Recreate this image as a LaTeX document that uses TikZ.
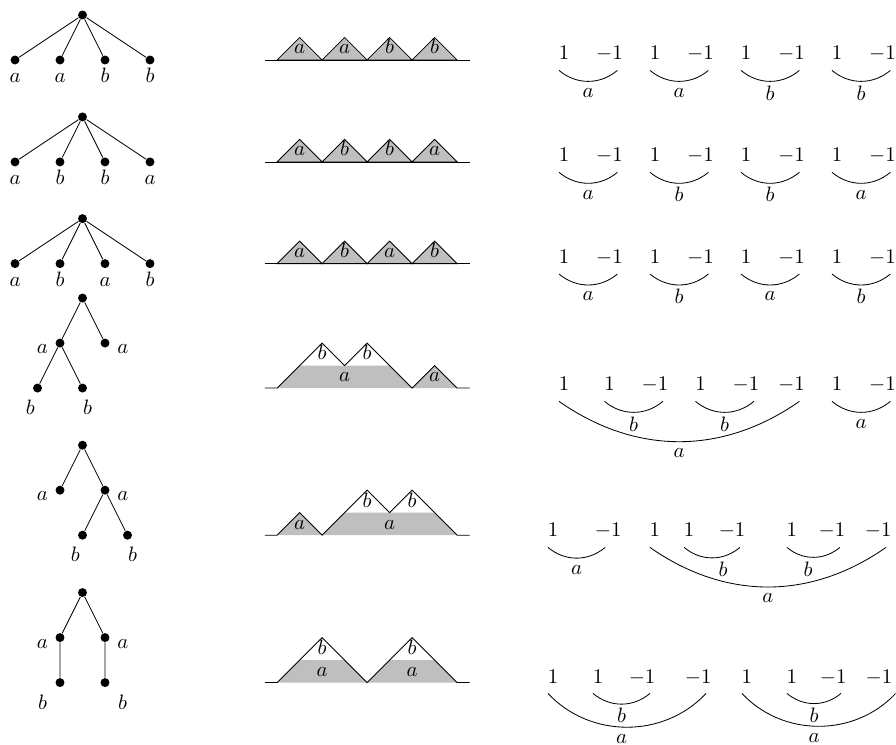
\documentclass[tikz,border=0pt]{standalone}
\usepackage{amsmath}
\begin{document}
\begin{tikzpicture}[x=0.38cm,y=0.38cm,
		knoten/.style={circle,fill,inner sep=0pt,minimum size=4.3pt},
		berg/.style={fill=gray!50},
		buchst/.style={anchor=base},
		zahl/.style={inner sep=0pt,anchor=base},
		marke/.style={midway,yshift=-5.5pt}]
	\useasboundingbox (-0.667,2.667) rectangle (39.156,-30.444);
	
	% Zeilen 1-3: Baum, Berge, Klammern
	\foreach \y/\ls [count=\r] in {0/{a,a,b,b},-4.53/{a,b,b,a},-9.05/{a,b,a,b}} {
		\node[knoten] (w\r) at (3,\y+2) {};
		\draw (11.1,\y) -- (20.2,\y);
		\foreach \l [count=\i] in \ls {
			% Blatt
			\node[knoten,label={[text height=4.9pt,text depth=0pt]below:$\l$}] (w\r-\i) at (2*\i-2,\y) {};
			\draw (w\r) -- (w\r-\i);
			% Berg
			\filldraw[berg] (9.65+2*\i,\y) -- (10.65+2*\i,\y+1) -- (11.65+2*\i,\y) -- cycle;
			\node[buchst] (d\r-\i) at (10.65+2*\i,\y+0.27) {$\l$};
			% Klammer
			\node[zahl] (e\r-\i) at (20.356+4.044*\i,\y) {$1$};
			\node[zahl] (m\r-\i) at (22.378+4.044*\i,\y) {$-1$};
			\draw ([shift={(-2.4pt,-5pt)}]e\r-\i.base) to[bend right=40] node[marke] (k\r-\i) {$\l$} ([shift={(3.8pt,-5pt)}]m\r-\i.base);
		}
	}
	
	% Zeile 4
	\node[knoten] (w4) at (3,-10.58) {};
	\node[knoten,label={[yshift=-3pt]left:$a$}] (w4-1) at (2,-12.58) {};
	\node[knoten,label={[yshift=-3pt]right:$a$}] (w4-2) at (4,-12.58) {};
	\node[knoten,label={[xshift=-3.4pt]below:$b$}] (w4-3) at (1,-14.58) {};
	\node[knoten,label={[xshift=2.4pt]below:$b$}] (w4-4) at (3,-14.58) {};
	\draw (w4) -- (w4-1) (w4) -- (w4-2) (w4-1) -- (w4-3) (w4-1) -- (w4-4);
	
	\fill[berg] (11.65,-14.58) -- (12.65,-13.58) -- (16.65,-13.58) -- (17.65,-14.58) -- cycle;
	\fill[berg] (17.65,-14.58) -- (18.65,-13.58) -- (19.65,-14.58) -- cycle;
	\draw (11.1,-14.58) -- (11.65,-14.58) -- (13.65,-12.58) -- (14.65,-13.58) -- (15.65,-12.58)
		-- (17.65,-14.58) -- (18.65,-13.58) -- (19.65,-14.58) -- (20.2,-14.58);
	\node[buchst] (d4-1) at (13.65,-13.33) {$b$};
	\node[buchst] (d4-2) at (15.65,-13.33) {$b$};
	\node[buchst] (d4-3) at (14.65,-14.31) {$a$};
	\node[buchst] (d4-4) at (18.65,-14.31) {$a$};
	
	\foreach \x/\z [count=\i] in {24.4/1,26.422/1,28.444/-1,30.466/1,32.488/-1,34.51/-1,36.532/1,38.554/-1}
		\node[zahl] (z4-\i) at (\x,-14.71) {$\z$};
	\draw ([shift={(-2.4pt,-5pt)}]z4-2.base) to[bend right=40] node[marke] (k4-1) {$b$} ([shift={(3.8pt,-5pt)}]z4-3.base);
	\draw ([shift={(-2.4pt,-5pt)}]z4-4.base) to[bend right=40] node[marke] (k4-2) {$b$} ([shift={(3.8pt,-5pt)}]z4-5.base);
	\draw ([shift={(-2.4pt,-5pt)}]z4-1.base) to[bend right=35] node[marke] (k4-3) {$a$} ([shift={(3.8pt,-5pt)}]z4-6.base);
	\draw ([shift={(-2.4pt,-5pt)}]z4-7.base) to[bend right=40] node[marke] (k4-4) {$a$} ([shift={(3.8pt,-5pt)}]z4-8.base);
	
	% Zeile 5
	\node[knoten] (w5) at (3,-17.12) {};
	\node[knoten,label={[yshift=-3pt]left:$a$}] (w5-1) at (2,-19.12) {};
	\node[knoten,label={[yshift=-3pt]right:$a$}] (w5-2) at (4,-19.12) {};
	\node[knoten,label={[xshift=-3.4pt]below:$b$}] (w5-3) at (3,-21.12) {};
	\node[knoten,label={[xshift=2.4pt]below:$b$}] (w5-4) at (5,-21.12) {};
	\draw (w5) -- (w5-1) (w5) -- (w5-2) (w5-2) -- (w5-3) (w5-2) -- (w5-4);
	
	\fill[berg] (11.65,-21.12) -- (12.65,-20.12) -- (13.65,-21.12) -- cycle;
	\fill[berg] (13.65,-21.12) -- (14.65,-20.12) -- (18.65,-20.12) -- (19.65,-21.12) -- cycle;
	\draw (11.1,-21.12) -- (11.65,-21.12) -- (12.65,-20.12) -- (13.65,-21.12) -- (15.65,-19.12)
		-- (16.65,-20.12) -- (17.65,-19.12) -- (19.65,-21.12) -- (20.2,-21.12);
	\node[buchst] (d5-1) at (12.65,-20.85) {$a$};
	\node[buchst] (d5-2) at (15.65,-19.87) {$b$};
	\node[buchst] (d5-3) at (17.65,-19.87) {$b$};
	\node[buchst] (d5-4) at (16.65,-20.85) {$a$};
	
	\foreach \x/\z [count=\i] in {23.91/1,26.36/-1,28.44/1,29.96/1,31.87/-1,34.53/1,36.31/-1,38.36/-1}
		\node[zahl] (z5-\i) at (\x,-21.2) {$\z$};
	\draw ([shift={(-2.4pt,-5pt)}]z5-1.base) to[bend right=40] node[marke] (k5-1) {$a$} ([shift={(-1.4pt,-5pt)}]z5-2.base);
	\draw ([shift={(-2.4pt,-5pt)}]z5-4.base) to[bend right=40] node[marke,xshift=5.3pt] (k5-2) {$b$} ([shift={(3.8pt,-5pt)}]z5-5.base);
	\draw ([shift={(-2.4pt,-5pt)}]z5-6.base) to[bend right=40] node[marke,xshift=-2.6pt] (k5-3) {$b$} ([shift={(3.8pt,-5pt)}]z5-7.base);
	\draw ([shift={(-2.4pt,-5pt)}]z5-3.base) to[bend right=35] node[marke] (k5-4) {$a$} ([shift={(3.8pt,-5pt)}]z5-8.base);
	
	% Zeile 6
	\node[knoten] (w6) at (3,-23.67) {};
	\node[knoten,label={[yshift=-3pt]left:$a$}] (w6-1) at (2,-25.67) {};
	\node[knoten,label={[yshift=-3pt]right:$a$}] (w6-2) at (4,-25.67) {};
	\node[knoten,label={[xshift=-8.4pt]below:$b$}] (w6-3) at (2,-27.67) {};
	\node[knoten,label={[xshift=8.4pt]below:$b$}] (w6-4) at (4,-27.67) {};
	\draw (w6) -- (w6-1) (w6) -- (w6-2) (w6-1) -- (w6-3) (w6-2) -- (w6-4);
	
	\fill[berg] (11.65,-27.67) -- (12.65,-26.67) -- (14.65,-26.67) -- (15.65,-27.67) -- cycle;
	\fill[berg] (15.65,-27.67) -- (16.65,-26.67) -- (18.65,-26.67) -- (19.65,-27.67) -- cycle;
	\draw (11.1,-27.67) -- (11.65,-27.67) -- (13.65,-25.67) -- (15.65,-27.67) -- (17.65,-25.67)
		-- (19.65,-27.67) -- (20.2,-27.67);
	\node[buchst] (d6-1) at (13.65,-26.42) {$b$};
	\node[buchst] (d6-2) at (13.65,-27.40) {$a$};
	\node[buchst] (d6-3) at (17.65,-26.42) {$b$};
	\node[buchst] (d6-4) at (17.65,-27.40) {$a$};
	
	\foreach \x/\z [count=\i] in {23.91/1,25.91/1,27.87/-1,30.36/-1,32.53/1,34.53/1,36.36/-1,38.4/-1}
		\node[zahl] (z6-\i) at (\x,-27.69) {$\z$};
	\draw ([shift={(-2.4pt,-5pt)}]z6-1.base) to[bend right=47] node[marke,xshift=-2.6pt] (k6-1) {$a$} ([shift={(3.8pt,-5pt)}]z6-4.base);
	\draw ([shift={(-2.4pt,-5pt)}]z6-2.base) to[bend right=40] node[marke] (k6-2) {$b$} ([shift={(3.8pt,-5pt)}]z6-3.base);
	\draw ([shift={(-2.4pt,-5pt)}]z6-5.base) to[bend right=47] node[marke,xshift=-2.2pt] (k6-3) {$a$} ([shift={(8pt,-5pt)}]z6-8.base);
	\draw ([shift={(-2.4pt,-5pt)}]z6-6.base) to[bend right=40] node[marke] (k6-4) {$b$} ([shift={(3.8pt,-5pt)}]z6-7.base);
\end{tikzpicture}
\end{document}
